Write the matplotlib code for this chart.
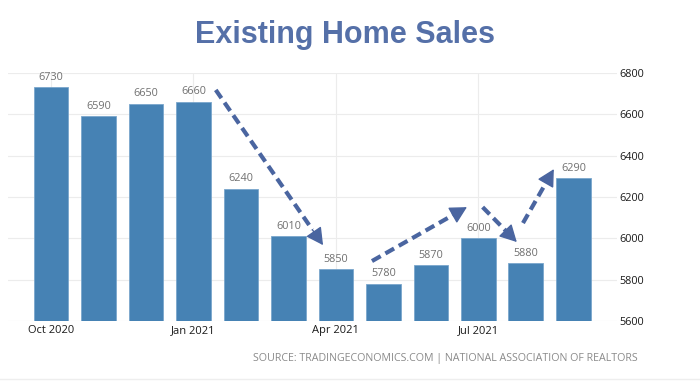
import matplotlib
matplotlib.use("Agg")
import matplotlib.pyplot as plt

months = ["Oct", "Nov", "Dec", "Jan", "Feb", "Mar", "Apr", "May", "Jun", "Jul", "Aug", "Sep"]
sales = [6730, 6590, 6650, 6660, 6240, 6010, 5850, 5780, 5870, 6000, 5880, 6290]
tick_pos = [0, 3, 6, 9]
tick_labels = ["Oct 2020", "Jan 2021", "Apr 2021", "Jul 2021"]
y_ticks = [5600, 5800, 6000, 6200, 6400, 6600, 6800]
# trend arrows (start -> end) in data coordinates
arrows = [
    ((3.47, 6718), (5.73, 5967)),
    ((6.76, 5890), (8.76, 6151)),
    ((9.09, 6151), (9.81, 5982)),
    ((9.94, 6074), (10.59, 6335)),
]

font = ["Open Sans", "DejaVu Sans"]
arrow_color = "#4a65a0"

fig = plt.figure(figsize=(7, 3.92), dpi=100)
ax = fig.add_axes([8 / 700, 71 / 392, 609 / 700, 248 / 392])

x = list(range(len(sales)))
ax.bar(x, sales, width=0.73, bottom=0, color="#4682b4", edgecolor="#7aa6cc",
       linewidth=0.6, zorder=2)
for xi, v in zip(x, sales):
    ax.text(xi, v + 22, str(v), ha="center", va="bottom", fontsize=7.8,
            color="#707070", family=font, clip_on=False)

for (x0, y0), (x1, y1) in arrows:
    # dashed shaft, then a solid head at the end
    hx = x0 + (x1 - x0) * 0.9
    hy = y0 + (y1 - y0) * 0.9
    ax.plot([x0, hx], [y0, hy], color=arrow_color, lw=3.0,
            linestyle=(0, (2.4, 1.3)), solid_capstyle="butt",
            dash_capstyle="butt", zorder=3)
    ax.annotate("", xy=(x1, y1), xytext=(hx, hy),
                arrowprops=dict(arrowstyle="-|>,head_length=0.75,head_width=0.4",
                                lw=1, color=arrow_color, mutation_scale=14,
                                shrinkA=0, shrinkB=0),
                zorder=3)

ax.set_xlim(-0.905, 11.92)
ax.set_ylim(5600, 6800)
ax.yaxis.tick_right()
ax.set_yticks(y_ticks)
ax.set_xticks(tick_pos)
ax.set_xticklabels(tick_labels)
ax.tick_params(axis="both", length=0, colors="#1a1a1a")
ax.tick_params(axis="x", labelsize=8, pad=3)
ax.tick_params(axis="y", labelsize=7.8, pad=2)
for lab in ax.get_xticklabels() + ax.get_yticklabels():
    lab.set_family(font)
ax.grid(True, color="#ececec", linewidth=0.8, zorder=0)
ax.set_axisbelow(True)
for s in ax.spines.values():
    s.set_visible(False)

fig.text(0.493, 0.91, "Existing Home Sales", ha="center", va="center",
         fontsize=22, fontweight="bold", color="#5570a8",
         family=["Liberation Sans", "DejaVu Sans"])
fig.text(638 / 700, 1 - 358 / 392,
         "SOURCE: TRADINGECONOMICS.COM | NATIONAL ASSOCIATION OF REALTORS",
         ha="right", va="center", fontsize=7.7, color="#8a8a8a", family=font)
fig.add_artist(plt.Line2D([0, 1], [1 - 379 / 392] * 2, color="#eeeeee", lw=1))

fig.savefig("out.png", dpi=100)
